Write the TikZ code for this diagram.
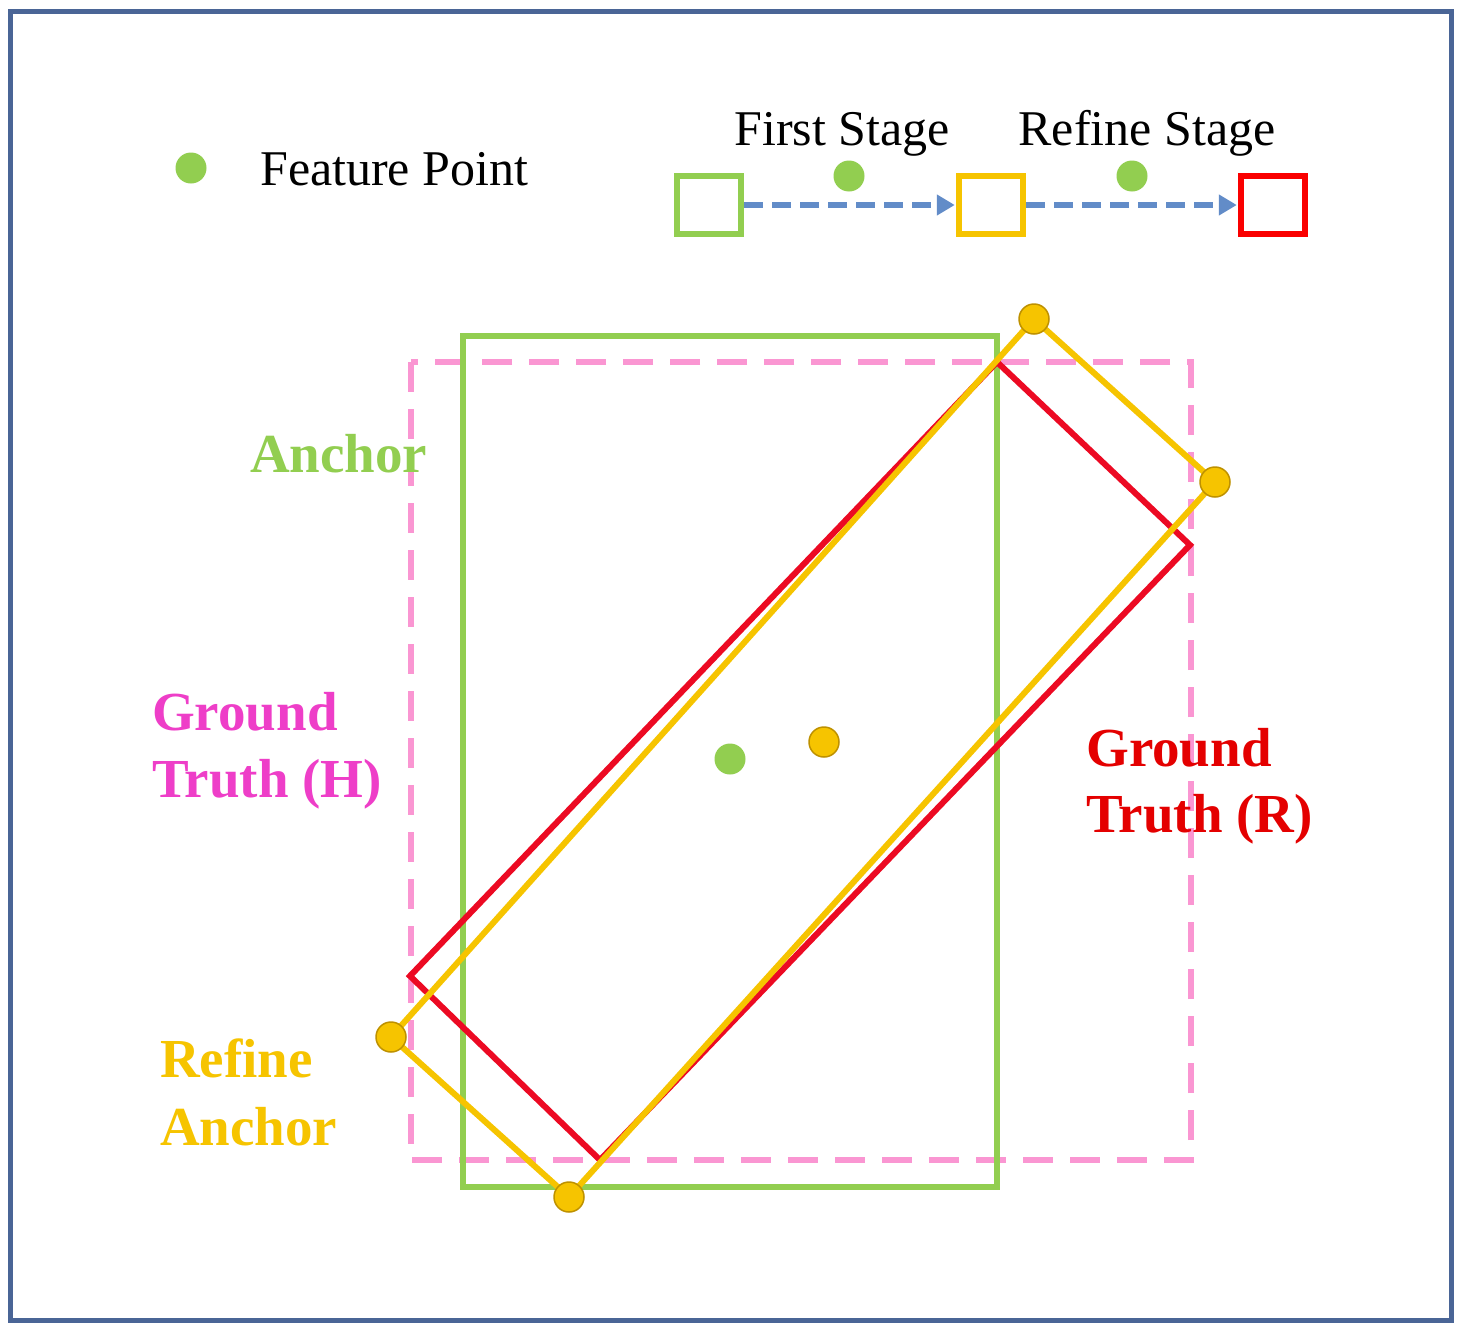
\documentclass[tikz,border=0pt]{standalone}
\usepackage{fontspec}
\setmainfont{Liberation Serif}
\usetikzlibrary{arrows.meta}
\definecolor{framecol}{RGB}{74,101,150}
\definecolor{agreen}{RGB}{146,206,80}
\definecolor{ayellow}{RGB}{246,196,0}
\definecolor{ydotline}{RGB}{190,145,0}
\definecolor{gtred}{RGB}{236,10,35}
\definecolor{legred}{RGB}{250,0,0}
\definecolor{gtpink}{RGB}{250,150,210}
\definecolor{hmag}{RGB}{238,62,200}
\definecolor{rtext}{RGB}{228,0,0}
\definecolor{flowblue}{RGB}{98,140,200}
\begin{document}
\begin{tikzpicture}[x=1pt,y=-1pt,
  frame/.style={draw=framecol,line width=5pt},
  fdot/.style={circle,fill=agreen,inner sep=0pt,minimum size=31pt},
  ydot/.style={circle,fill=ayellow,draw=ydotline,line width=1.5pt,inner sep=0pt,minimum size=30pt},
  legbox/.style={draw=#1,line width=6.5pt,fill=white,minimum width=64pt,minimum height=58pt,inner sep=0pt},
  flowarrow/.style={draw=flowblue,line width=6pt,dash pattern=on 19pt off 9pt,-{Triangle[length=18pt,width=20pt,fill=flowblue]},shorten >=1pt},
  legtext/.style={font=\fontsize{50}{60}\selectfont,inner sep=0pt},
  lab/.style={font=\fontsize{55}{66}\selectfont\bfseries,inner sep=0pt,anchor=base west},
  pinkdash/.style={draw=gtpink,line width=6pt,dash pattern=on 30pt off 17pt},
  anchorline/.style={draw=agreen,line width=6pt},
  redline/.style={draw=gtred,line width=6pt,line join=miter},
  yline/.style={draw=ayellow,line width=6pt,line join=round}
]
\useasboundingbox[fill=white] (0,0) rectangle (1464,1333);
\draw[frame] (10,11) rectangle (1451,1320);

% legend
\node[fdot] (fp) at (191,168) {};
\node[legtext,anchor=base west] (fptext) at (260,185) {Feature Point};
\node[legbox=agreen] (b1) at (709,205) {};
\node[legbox=ayellow] (b2) at (991,205) {};
\node[legbox=legred] (b3) at (1273,205) {};
\draw[flowarrow] (b1.east) -- (b2.west);
\draw[flowarrow] (b2.east) -- (b3.west);
\node[fdot] (d1) at (849,176) {};
\node[fdot] (d2) at (1132,176) {};
\node[legtext,anchor=base] (fs) at (842,145) {First Stage};
\node[legtext,anchor=base] (rs) at (1147,145) {Refine Stage};

% main boxes
\draw[pinkdash] (411,362) rectangle (1191,1160);
\draw[anchorline] (463,336) rectangle (997,1187);
\draw[redline] (997,362) -- (1190,545) -- (600,1160) -- (410,976) -- cycle;
\coordinate (y1) at (1034,319);
\coordinate (y2) at (1215,482);
\coordinate (y3) at (569,1197);
\coordinate (y4) at (391,1037);
\draw[yline] (y1) -- (y2) -- (y3) -- (y4) -- cycle;
\node[ydot] (c1) at (y1) {};
\node[ydot] (c2) at (y2) {};
\node[ydot] (c3) at (y3) {};
\node[ydot] (c4) at (y4) {};
\node[fdot] (cg) at (730,759) {};
\node[ydot] (cy) at (824,742) {};

% labels
\node[lab,text=agreen] (la) at (250,472) {Anchor};
\node[lab,text=hmag] (lh1) at (152,730) {Ground};
\node[lab,text=hmag] (lh2) at (152,797) {Truth (H)};
\node[lab,text=rtext] (lr1) at (1086,766) {Ground};
\node[lab,text=rtext] (lr2) at (1086,832) {Truth (R)};
\node[lab,text=ayellow] (lf1) at (160,1077) {Refine};
\node[lab,text=ayellow] (lf2) at (160,1145) {Anchor};
\end{tikzpicture}
\end{document}
